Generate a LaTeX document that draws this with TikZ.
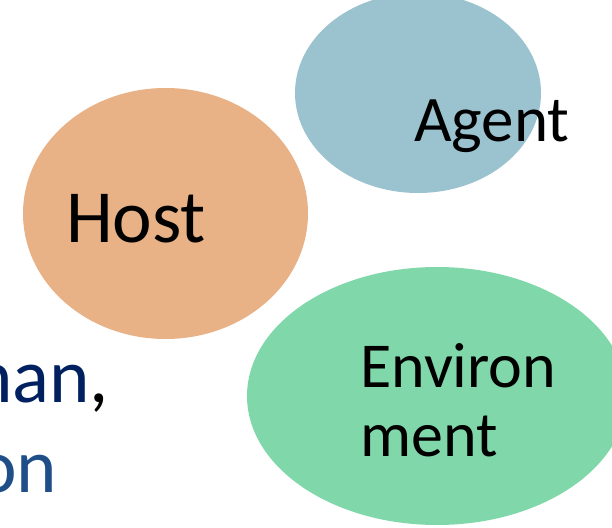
\documentclass[tikz,border=0pt]{standalone}
\usepackage{fontspec}
\setmainfont{Carlito}
\usepackage{tikz}
\usetikzlibrary{positioning,shapes.geometric}
\definecolor{agentblue}{HTML}{9AC3CF}
\definecolor{hostorange}{HTML}{E8B286}
\definecolor{envgreen}{HTML}{80D7AA}
\definecolor{navytext}{HTML}{002060}
\definecolor{bluetext}{HTML}{1F4E89}
\tikzset{
	blob/.style={ellipse, draw=none, inner sep=0pt},
	word/.style={inner sep=0pt, anchor=base west}
}
\begin{document}
\begin{tikzpicture}[x=1pt,y=1pt]
					\useasboundingbox (0,0) rectangle (612,527);
					\clip (0,0) rectangle (612,527);
					\node[blob, fill=agentblue, minimum width=246, minimum height=200] (agent) at (418,434) {};
					\node[blob, fill=hostorange, minimum width=285, minimum height=251] (host) at (165.5,313.5) {};
					\node[blob, fill=envgreen, minimum width=380, minimum height=258] (env) at (437,131) {};
					\node[word, font=\fontsize{65}{65}\selectfont] (agentlbl) at (414,385) {Agent};
					\node[word, font=\fontsize{75}{75}\selectfont] (hostlbl) at (66,284) {Host};
					\node[word, font=\fontsize{64}{68}\selectfont, align=left] (envlbl) at (360,71) {Environ\\ment};
					\node[word, font=\fontsize{77}{77}\selectfont, text=navytext] (humanlbl) at (-28,124) {nan\textcolor{black}{,}};
					\node[word, font=\fontsize{77}{77}\selectfont, text=bluetext] (onlbl) at (-24,35) {on};
\end{tikzpicture}
\end{document}
